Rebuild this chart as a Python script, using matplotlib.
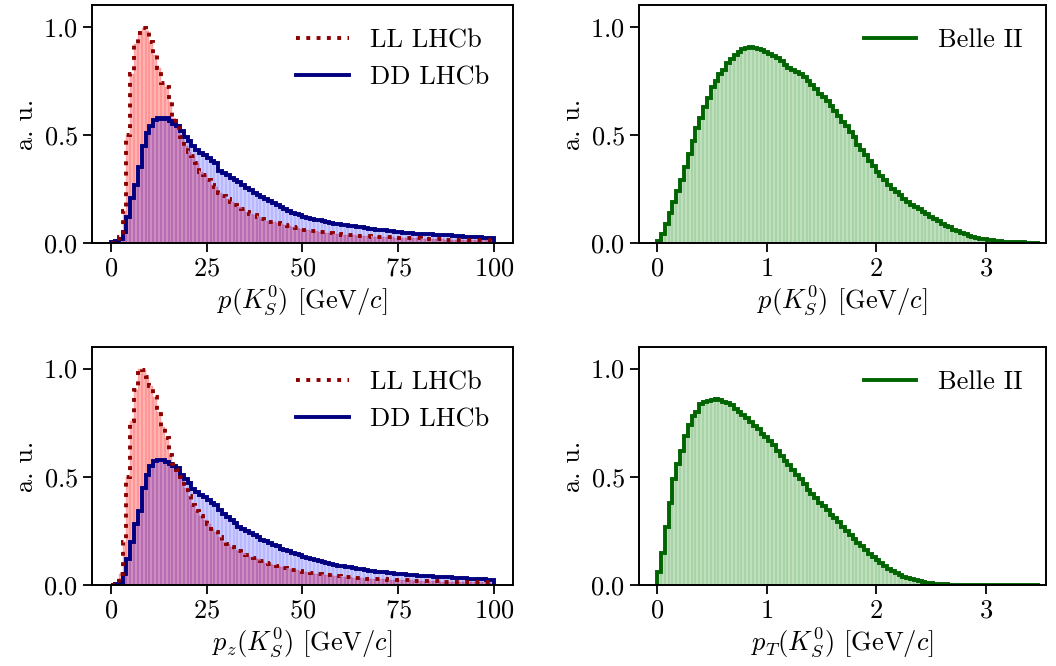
import numpy as np
import matplotlib.pyplot as plt
from matplotlib.lines import Line2D

plt.rcParams['font.family'] = 'cmr10'
plt.rcParams['mathtext.fontset'] = 'cm'
plt.rcParams['axes.formatter.use_mathtext'] = True
plt.rcParams['font.size'] = 19
plt.rcParams['axes.linewidth'] = 1.4

# bin edges (100 bins each)
lhcb_edges = np.linspace(0, 100, 101)
belle_edges = np.linspace(0, 3.5, 101)

# LHCb, total momentum p(K_S^0), normalised heights
ll_p = [0.0, 0.005, 0.03, 0.15, 0.50, 0.78, 0.92, 0.97, 0.995, 0.98,
        0.93, 0.87, 0.81, 0.74, 0.72, 0.65, 0.58, 0.53, 0.49, 0.45,
        0.42, 0.40, 0.37, 0.33, 0.315, 0.29, 0.27, 0.26, 0.23, 0.215,
        0.205, 0.19, 0.175, 0.165, 0.155, 0.145, 0.133, 0.128, 0.122, 0.11,
        0.101, 0.099, 0.097, 0.093, 0.089, 0.082, 0.077, 0.073, 0.069, 0.066,
        0.062, 0.059, 0.056, 0.054, 0.052, 0.049, 0.047, 0.045, 0.043, 0.041,
        0.039, 0.037, 0.036, 0.035, 0.034, 0.033, 0.032, 0.031, 0.030, 0.029,
        0.029, 0.028, 0.027, 0.026, 0.025, 0.025, 0.024, 0.023, 0.022, 0.022,
        0.021, 0.020, 0.020, 0.019, 0.019, 0.018, 0.017, 0.016, 0.016, 0.015,
        0.015, 0.015, 0.014, 0.014, 0.014, 0.013, 0.013, 0.013, 0.012, 0.012]
dd_p = [0.003, 0.008, 0.02, 0.05, 0.12, 0.21, 0.27, 0.35, 0.45, 0.51,
        0.54, 0.57, 0.578, 0.575, 0.577, 0.565, 0.55, 0.54, 0.52, 0.49,
        0.47, 0.45, 0.43, 0.415, 0.405, 0.395, 0.38, 0.37, 0.335, 0.325,
        0.315, 0.30, 0.29, 0.28, 0.27, 0.255, 0.245, 0.232, 0.222, 0.212,
        0.203, 0.193, 0.183, 0.175, 0.165, 0.155, 0.148, 0.140, 0.134, 0.128,
        0.122, 0.117, 0.113, 0.108, 0.105, 0.100, 0.097, 0.093, 0.090, 0.087,
        0.085, 0.083, 0.080, 0.077, 0.075, 0.072, 0.069, 0.067, 0.064, 0.062,
        0.060, 0.058, 0.056, 0.054, 0.052, 0.050, 0.048, 0.047, 0.045, 0.044,
        0.043, 0.042, 0.041, 0.040, 0.039, 0.038, 0.037, 0.036, 0.035, 0.034,
        0.032, 0.031, 0.030, 0.029, 0.028, 0.027, 0.026, 0.025, 0.023, 0.022]

# LHCb, longitudinal momentum p_z(K_S^0)
ll_pz = [0.0, 0.006, 0.05, 0.20, 0.50, 0.76, 0.90, 1.0, 0.995, 0.96,
         0.92, 0.87, 0.80, 0.73, 0.68, 0.60, 0.56, 0.53, 0.50, 0.45,
         0.41, 0.37, 0.34, 0.32, 0.30, 0.28, 0.26, 0.245, 0.22, 0.20,
         0.19, 0.175, 0.163, 0.155, 0.147, 0.139, 0.131, 0.124, 0.118, 0.109,
         0.104, 0.097, 0.093, 0.087, 0.081, 0.077, 0.073, 0.070, 0.068, 0.064,
         0.061, 0.058, 0.055, 0.052, 0.050, 0.048, 0.046, 0.044, 0.042, 0.040,
         0.038, 0.036, 0.035, 0.034, 0.033, 0.031, 0.030, 0.029, 0.028, 0.027,
         0.027, 0.026, 0.025, 0.024, 0.024, 0.023, 0.022, 0.021, 0.021, 0.020,
         0.020, 0.019, 0.018, 0.018, 0.017, 0.017, 0.016, 0.016, 0.015, 0.015,
         0.014, 0.014, 0.014, 0.013, 0.013, 0.013, 0.012, 0.012, 0.012, 0.011]
dd_pz = [0.0, 0.005, 0.012, 0.05, 0.12, 0.20, 0.28, 0.34, 0.45, 0.51,
         0.55, 0.575, 0.58, 0.58, 0.57, 0.56, 0.548, 0.54, 0.51, 0.49,
         0.47, 0.445, 0.43, 0.415, 0.405, 0.395, 0.38, 0.37, 0.345, 0.33,
         0.316, 0.30, 0.288, 0.27, 0.26, 0.25, 0.24, 0.23, 0.22, 0.21,
         0.203, 0.195, 0.186, 0.178, 0.168, 0.162, 0.155, 0.148, 0.142, 0.138,
         0.130, 0.125, 0.120, 0.115, 0.110, 0.106, 0.102, 0.098, 0.094, 0.090,
         0.087, 0.084, 0.081, 0.078, 0.075, 0.072, 0.070, 0.067, 0.065, 0.062,
         0.060, 0.058, 0.056, 0.054, 0.052, 0.050, 0.049, 0.047, 0.046, 0.044,
         0.043, 0.042, 0.041, 0.040, 0.039, 0.038, 0.037, 0.036, 0.035, 0.034,
         0.033, 0.032, 0.031, 0.030, 0.029, 0.028, 0.027, 0.026, 0.025, 0.022]

# Belle II, p(K_S^0)
belle_p = [0.01, 0.04, 0.09, 0.14, 0.19, 0.24, 0.29, 0.35, 0.41, 0.47,
           0.53, 0.58, 0.63, 0.67, 0.72, 0.75, 0.78, 0.80, 0.83, 0.85,
           0.87, 0.885, 0.895, 0.90, 0.905, 0.90, 0.895, 0.89, 0.885, 0.875,
           0.865, 0.855, 0.84, 0.825, 0.81, 0.80, 0.79, 0.78, 0.765, 0.75,
           0.73, 0.71, 0.69, 0.675, 0.655, 0.635, 0.61, 0.585, 0.56, 0.54,
           0.515, 0.49, 0.455, 0.43, 0.405, 0.38, 0.355, 0.33, 0.31, 0.29,
           0.27, 0.25, 0.235, 0.22, 0.205, 0.19, 0.178, 0.165, 0.155, 0.143,
           0.132, 0.12, 0.11, 0.10, 0.09, 0.08, 0.072, 0.062, 0.054, 0.047,
           0.040, 0.034, 0.029, 0.024, 0.020, 0.017, 0.014, 0.012, 0.010, 0.009,
           0.007, 0.006, 0.005, 0.004, 0.003, 0.003, 0.002, 0.002, 0.001, 0.001]

# Belle II, p_T(K_S^0)
belle_pt = [0.06, 0.15, 0.27, 0.38, 0.49, 0.56, 0.62, 0.69, 0.74, 0.78,
            0.80, 0.835, 0.845, 0.85, 0.855, 0.858, 0.853, 0.848, 0.842, 0.83,
            0.815, 0.80, 0.785, 0.77, 0.752, 0.735, 0.72, 0.70, 0.685, 0.665,
            0.645, 0.62, 0.598, 0.575, 0.555, 0.532, 0.51, 0.49, 0.465, 0.44,
            0.42, 0.40, 0.38, 0.365, 0.345, 0.325, 0.31, 0.29, 0.27, 0.25,
            0.232, 0.212, 0.195, 0.178, 0.16, 0.145, 0.13, 0.115, 0.10, 0.088,
            0.076, 0.066, 0.056, 0.047, 0.039, 0.032, 0.026, 0.021, 0.017, 0.013,
            0.010, 0.008, 0.006, 0.005, 0.004, 0.003, 0.002, 0.002, 0.001, 0.001,
            0.001, 0.001, 0.001, 0.0, 0.0, 0.0, 0.0, 0.0, 0.0, 0.0,
            0.0, 0.0, 0.0, 0.0, 0.0, 0.0, 0.0, 0.0, 0.0, 0.0]

LW = 2.8


def draw_lhcb(ax, ll, dd, xlabel):
    centers = 0.5 * (lhcb_edges[1:] + lhcb_edges[:-1])
    ax.hist(centers, bins=lhcb_edges, weights=ll, color='red', alpha=0.3,
            edgecolor='red', linewidth=0.35)
    ax.hist(centers, bins=lhcb_edges, weights=dd, color='blue', alpha=0.2,
            edgecolor='blue', linewidth=0.35)
    ax.stairs(dd, lhcb_edges, color='navy', linewidth=LW)
    ax.stairs(ll, lhcb_edges, color='darkred', linestyle=':', linewidth=LW)
    handles = [Line2D([], [], color='darkred', linestyle=':', linewidth=LW),
               Line2D([], [], color='navy', linewidth=LW)]
    ax.legend(handles, ['LL LHCb', 'DD LHCb'], loc='upper right', frameon=False)
    ax.set_xlim(-5, 105)
    ax.set_xticks([0, 25, 50, 75, 100])
    ax.set_xlabel(xlabel)


def draw_belle(ax, vals, xlabel):
    centers = 0.5 * (belle_edges[1:] + belle_edges[:-1])
    ax.hist(centers, bins=belle_edges, weights=vals, color='green', alpha=0.25,
            edgecolor='green', linewidth=0.35)
    ax.stairs(vals, belle_edges, color='darkgreen', linewidth=LW)
    handles = [Line2D([], [], color='darkgreen', linewidth=LW)]
    ax.legend(handles, ['Belle II'], loc='upper right', frameon=False)
    ax.set_xlim(-0.165, 3.55)
    ax.set_xticks([0, 1, 2, 3])
    ax.set_xlabel(xlabel)


fig, axs = plt.subplots(2, 2, figsize=(10.56, 6.66), dpi=100)

draw_lhcb(axs[0, 0], ll_p, dd_p, r'$p(K_S^0)$ [GeV/$c$]')
draw_belle(axs[0, 1], belle_p, r'$p(K_S^0)$ [GeV/$c$]')
draw_lhcb(axs[1, 0], ll_pz, dd_pz, r'$p_z(K_S^0)$ [GeV/$c$]')
draw_belle(axs[1, 1], belle_pt, r'$p_T(K_S^0)$ [GeV/$c$]')

for ax in axs.flat:
    ax.set_ylim(0, 1.1)
    ax.set_yticks([0.0, 0.5, 1.0])
    ax.set_ylabel('a. u.')
    ax.tick_params(length=6.5, width=1.3)
    ax.xaxis.labelpad = 2

axs[0, 0].set_position([0.0871, 0.6351, 0.3987, 0.3574])
axs[0, 1].set_position([0.6051, 0.6351, 0.3854, 0.3574])
axs[1, 0].set_position([0.0871, 0.1216, 0.3987, 0.3574])
axs[1, 1].set_position([0.6051, 0.1216, 0.3854, 0.3574])

fig.savefig('out.png', dpi=100)
